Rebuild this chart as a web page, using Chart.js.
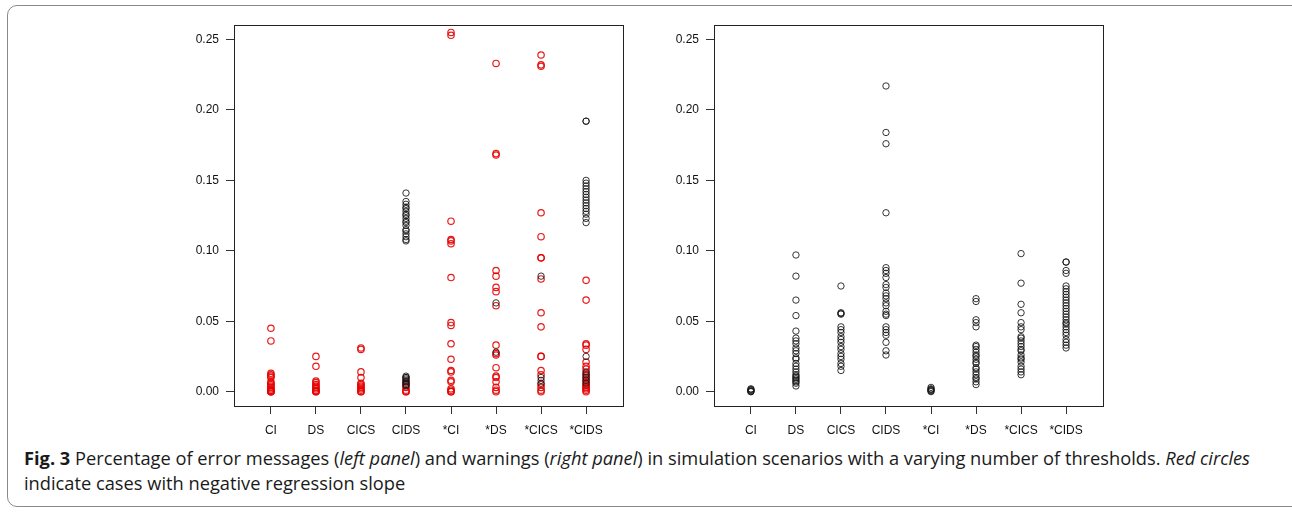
<!DOCTYPE html>
<html>
<head>
<meta charset="utf-8">
<script src="https://cdn.jsdelivr.net/npm/chart.js@4"></script>
<style>
  html, body { margin: 0; padding: 0; background: #fff; }
  body { width: 1292px; height: 512px; position: relative; overflow: hidden; }
  .frame {
    position: absolute; left: 7px; top: 5px; width: 1300px; height: 502px;
    border: 1.5px solid #8a8a8a; border-radius: 10px; box-sizing: border-box;
  }
  .panel { position: absolute; top: 0; width: 460px; height: 440px; }
  #leftPanel { left: 180px; }
  #rightPanel { left: 660px; }
  .caption {
    position: absolute; left: 24px; top: 446px;
    font-family: "Open Sans", sans-serif; font-size: 18px; color: #1a1a1a;
    line-height: 25px; white-space: nowrap;
  }
  .caption div { transform-origin: 0 50%; }
  .caption b { font-weight: 700; }
</style>
</head>
<body>
<div class="frame"></div>
<div class="panel" id="leftPanel"><canvas id="errorsChart"></canvas></div>
<div class="panel" id="rightPanel"><canvas id="warningsChart"></canvas></div>
<div class="caption" id="caption">
  <div id="capLine1"><b>Fig. 3</b> Percentage of error messages (<i>left panel</i>) and warnings (<i>right panel</i>) in simulation scenarios with a varying number of thresholds. <i>Red circles</i></div>
  <div id="capLine2">indicate cases with negative regression slope</div>
</div>

<script>
// Scenarios on the x axis
const categories = ['CI', 'DS', 'CICS', 'CIDS', '*CI', '*DS', '*CICS', '*CIDS'];
const yTicks = [0, 0.05, 0.10, 0.15, 0.20, 0.25];

// Left panel: error messages, positive slope (black), one list per scenario
const errorsPositive = [
  [],
  [],
  [],
  [0.141, 0.135, 0.133, 0.131, 0.130, 0.128, 0.126, 0.125, 0.123, 0.121, 0.120, 0.118, 0.115, 0.114, 0.112, 0.110, 0.108, 0.107,
   0.011, 0.010, 0.010, 0.009, 0.008, 0.007, 0.006, 0.005, 0.004],
  [],
  [0.063, 0.028],
  [0.082, 0.010, 0.008, 0.006],
  [0.192, 0.192, 0.150, 0.148, 0.146, 0.144, 0.142, 0.140, 0.138, 0.136, 0.134, 0.132, 0.130, 0.128, 0.126, 0.123, 0.120,
   0.025, 0.014, 0.012, 0.010, 0.008, 0.006]
];

// Left panel: error messages, negative slope (red)
const errorsNegative = [
  [0.045, 0.036, 0.013, 0.012, 0.011, 0.010, 0.007, 0.006, 0.005, 0.004, 0.003, 0.002, 0.001, 0.001, 0, 0, 0],
  [0.025, 0.018, 0.0075, 0.0065, 0.005, 0.004, 0.003, 0.002, 0.001, 0.0005, 0, 0],
  [0.031, 0.030, 0.014, 0.010, 0.006, 0.005, 0.004, 0.003, 0.002, 0.001, 0, 0],
  [0.007, 0.005, 0.003, 0.001, 0, 0],
  [0.255, 0.253, 0.121, 0.108, 0.107, 0.105, 0.081, 0.049, 0.047, 0.034, 0.023, 0.015, 0.014, 0.008, 0.007, 0.002, 0.001, 0, 0],
  [0.233, 0.169, 0.168, 0.086, 0.082, 0.074, 0.071, 0.061, 0.033, 0.027, 0.026, 0.017, 0.011, 0.010, 0.007, 0.003, 0.001, 0],
  [0.239, 0.232, 0.231, 0.127, 0.110, 0.095, 0.095, 0.080, 0.056, 0.046, 0.025, 0.025, 0.015, 0.012, 0.005, 0.003, 0.001, 0],
  [0.079, 0.065, 0.034, 0.033, 0.030, 0.021, 0.018, 0.016, 0.013, 0.011, 0.009, 0.007, 0.005, 0.004, 0.003, 0.002, 0.001, 0]
];

// Right panel: warnings
const warnings = [
  [0.002, 0.0015, 0.001, 0.0005, 0, 0],
  [0.097, 0.082, 0.065, 0.054, 0.043, 0.038, 0.036, 0.034, 0.031, 0.029, 0.027, 0.024, 0.023, 0.020, 0.018, 0.016, 0.014,
   0.012, 0.011, 0.010, 0.009, 0.008, 0.007, 0.006, 0.004],
  [0.075, 0.056, 0.0555, 0.055, 0.046, 0.044, 0.042, 0.039, 0.037, 0.035, 0.032, 0.030, 0.027, 0.025, 0.023, 0.020, 0.018, 0.015],
  [0.217, 0.184, 0.176, 0.127, 0.088, 0.086, 0.084, 0.081, 0.076, 0.074, 0.070, 0.068, 0.066, 0.063, 0.061, 0.057, 0.055,
   0.054, 0.046, 0.044, 0.042, 0.040, 0.035, 0.029, 0.026],
  [0.003, 0.002, 0.0015, 0.001, 0.0005, 0],
  [0.066, 0.064, 0.051, 0.049, 0.046, 0.033, 0.032, 0.030, 0.028, 0.026, 0.025, 0.023, 0.021, 0.020, 0.017, 0.016, 0.014,
   0.012, 0.010, 0.009, 0.007, 0.005],
  [0.098, 0.077, 0.062, 0.056, 0.049, 0.046, 0.044, 0.039, 0.038, 0.036, 0.034, 0.032, 0.030, 0.029, 0.026, 0.024, 0.023,
   0.021, 0.018, 0.016, 0.014, 0.012],
  [0.092, 0.092, 0.086, 0.084, 0.075, 0.073, 0.071, 0.069, 0.067, 0.065, 0.063, 0.061, 0.059, 0.057, 0.055, 0.053, 0.051,
   0.049, 0.048, 0.046, 0.044, 0.042, 0.040, 0.037, 0.035, 0.033, 0.031]
];

function toPoints(lists) {
  const pts = [];
  lists.forEach((vals, i) => vals.forEach(v => pts.push({ x: i + 1, y: v })));
  return pts;
}

// R style box around the plotting region
const boxPlugin = {
  id: 'box',
  afterDraw(chart) {
    const a = chart.chartArea;
    const ctx = chart.ctx;
    ctx.save();
    ctx.strokeStyle = '#222';
    ctx.lineWidth = 1;
    ctx.strokeRect(Math.round(a.left) + 0.5, Math.round(a.top) + 0.5,
                   Math.round(a.right - a.left), Math.round(a.bottom - a.top));
    ctx.restore();
  }
};

function makeOptions() {
  const tickFont = { family: '"Liberation Sans", Arial, sans-serif', size: 12 };
  return {
    responsive: true,
    maintainAspectRatio: false,
    animation: false,
    layout: { padding: { top: 25, right: 17, bottom: 0, left: 0 } },
    plugins: { legend: { display: false }, tooltip: { enabled: false } },
    scales: {
      x: {
        type: 'linear',
        min: 0.18,
        max: 8.82,
        afterBuildTicks: scale => { scale.ticks = categories.map((c, i) => ({ value: i + 1 })); },
        afterFit: scale => { scale.height = 34; },
        ticks: {
          autoSkip: false,
          maxRotation: 0,
          padding: 9,
          color: '#111',
          font: tickFont,
          callback: v => categories[v - 1]
        },
        grid: { drawOnChartArea: false, drawTicks: true, tickLength: 8, color: '#333' },
        border: { display: false }
      },
      y: {
        min: -0.0102,
        max: 0.2603,
        afterBuildTicks: scale => { scale.ticks = yTicks.map(v => ({ value: v })); },
        afterFit: scale => { scale.width = 54; },
        ticks: {
          padding: 7,
          color: '#111',
          font: tickFont,
          callback: v => Number(v).toFixed(2)
        },
        grid: { drawOnChartArea: false, drawTicks: true, tickLength: 8, color: '#333' },
        border: { display: false }
      }
    }
  };
}

const circle = {
  pointStyle: 'circle',
  pointRadius: 3.2,
  pointBackgroundColor: 'rgba(0,0,0,0)',
  showLine: false
};

new Chart(document.getElementById('errorsChart'), {
  type: 'scatter',
  data: {
    datasets: [
      Object.assign({ label: 'positive slope', data: toPoints(errorsPositive),
        pointBorderColor: 'rgba(20,20,20,0.85)', pointBorderWidth: 1 }, circle),
      Object.assign({ label: 'negative slope', data: toPoints(errorsNegative),
        pointBorderColor: 'rgba(230,0,0,0.9)', pointBorderWidth: 1.2 }, circle)
    ]
  },
  options: makeOptions(),
  plugins: [boxPlugin]
});

new Chart(document.getElementById('warningsChart'), {
  type: 'scatter',
  data: {
    datasets: [
      Object.assign({ label: 'warnings', data: toPoints(warnings),
        pointBorderColor: 'rgba(20,20,20,0.85)', pointBorderWidth: 1 }, circle)
    ]
  },
  options: makeOptions(),
  plugins: [boxPlugin]
});

// squeeze the caption to the width of the original (condensed face)
const line1 = document.getElementById('capLine1');
const line2 = document.getElementById('capLine2');
line1.style.display = 'inline-block';
line2.style.display = 'inline-block';
const k = 1226 / line1.getBoundingClientRect().width;
line1.style.transform = 'scaleX(' + k + ')';
line2.style.transform = 'scaleX(' + k + ')';
line1.style.display = 'block';
line2.style.display = 'block';
</script>
</body>
</html>
